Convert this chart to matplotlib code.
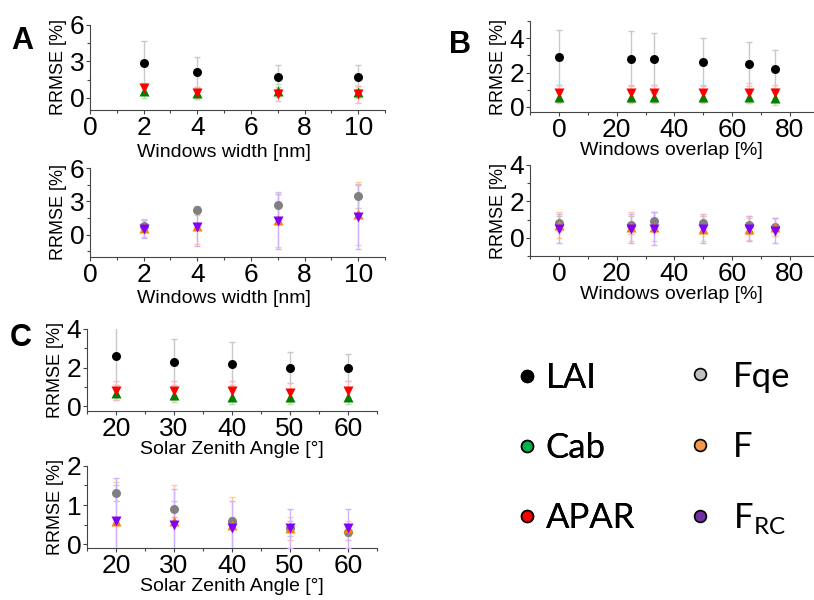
import matplotlib
matplotlib.use("Agg")
import matplotlib.pyplot as plt
from matplotlib.lines import Line2D
from matplotlib.ticker import MultipleLocator, AutoMinorLocator

plt.rcParams.update({
    "font.family": ["Liberation Sans", "DejaVu Sans"],
    "font.size": 13,
    "axes.spines.top": False, "axes.spines.right": False,
    "mathtext.fontset": "custom", "mathtext.rm": "Lato",
})

# ---- data ----
width_x = [2, 4, 7, 10]
width_lai = [2.9, 2.1, 1.7, 1.7]
width_lai_err = [1.8, 1.3, 1.0, 1.0]
width_cab = [0.6, 0.4, 0.6, 0.5]
width_cab_err = [0.6, 0.5, 0.5, 0.5]
width_apar = [0.8, 0.4, 0.3, 0.3]
width_apar_err = [0.4, 0.5, 0.6, 0.7]
width_fqe = [0.8, 2.2, 2.7, 3.5]
width_fqe_err = [0.5, 0.4, 1.15, 1.1]
width_f = [0.6, 0.8, 1.3, 1.9]
width_f_err = [0.8, 1.6, 2.4, 2.8]
width_frc = [0.5, 0.7, 1.2, 1.6]
width_frc_err = [0.8, 1.7, 2.5, 2.9]

overlap_x = [0, 25, 33, 50, 66, 75]
overlap_lai = [2.9, 2.8, 2.8, 2.6, 2.5, 2.2]
overlap_lai_err = [1.6, 1.6, 1.5, 1.4, 1.3, 1.1]
overlap_cab = [0.6, 0.6, 0.6, 0.6, 0.6, 0.5]
overlap_cab_err = [0.4, 0.4, 0.4, 0.4, 0.4, 0.4]
overlap_apar = [0.8, 0.8, 0.8, 0.8, 0.8, 0.8]
overlap_apar_err = [0.5, 0.5, 0.5, 0.5, 0.6, 0.5]
overlap_fqe = [0.8, 0.7, 0.9, 0.8, 0.7, 0.6]
overlap_fqe_err = [0.4, 0.5, 0.5, 0.4, 0.5, 0.5]
overlap_f = [0.7, 0.6, 0.6, 0.5, 0.5, 0.6]
overlap_f_err = [0.7, 0.8, 0.8, 0.7, 0.6, 0.5]
overlap_frc = [0.5, 0.5, 0.5, 0.5, 0.5, 0.4]
overlap_frc_err = [0.8, 0.8, 0.9, 0.8, 0.7, 0.7]

sza_x = [20, 30, 40, 50, 60]
sza_lai = [2.6, 2.3, 2.2, 2.0, 2.0]
sza_lai_err = [1.5, 1.2, 1.1, 0.8, 0.7]
sza_cab = [0.7, 0.6, 0.5, 0.5, 0.5]
sza_cab_err = [0.4, 0.4, 0.4, 0.4, 0.4]
sza_apar = [0.8, 0.8, 0.8, 0.7, 0.8]
sza_apar_err = [0.5, 0.5, 0.5, 0.5, 0.5]
sza_fqe = [1.3, 0.9, 0.6, 0.4, 0.3]
sza_fqe_err = [0.2, 0.2, 0.1, 0.2, 0.2]
sza_f = [0.6, 0.6, 0.5, 0.4, 0.4]
sza_f_err = [1.0, 0.9, 0.7, 0.3, 0.2]
sza_frc = [0.6, 0.5, 0.4, 0.4, 0.4]
sza_frc_err = [1.1, 0.9, 0.7, 0.5, 0.5]

# marker style / error-bar colour per variable
STYLE = {
    "LAI": ("o", "black", "#c8c8c8"),
    "Cab": ("^", "#008000", "#b8e0b8"),
    "APAR": ("v", "#ff0000", "#ffb8b8"),
    "Fqe": ("o", "#808080", "#c8c8c8"),
    "F": ("^", "#ff8000", "#ffcc99"),
    "FRC": ("v", "#8000ff", "#d0b0ff"),
}


def series(ax, name, x, y, err):
    m, c, ec = STYLE[name]
    ax.errorbar(x, y, yerr=err, fmt=m, color=c, ecolor=ec, elinewidth=1,
                capsize=2, capthick=1, ms=6.5, mec="none", zorder=3)


def style_axes(ax, xlim, ylim, xmaj, ymaj, xlabel):
    ax.set_xlim(*xlim)
    ax.set_ylim(*ylim)
    ax.xaxis.set_major_locator(MultipleLocator(xmaj))
    ax.yaxis.set_major_locator(MultipleLocator(ymaj))
    ax.xaxis.set_minor_locator(AutoMinorLocator(2))
    ax.yaxis.set_minor_locator(AutoMinorLocator(2))
    ax.tick_params(which="major", direction="out", length=3, width=0.8,
                   labelsize=19, pad=1, color="#444444")
    ax.tick_params(which="minor", direction="out", length=2, width=0.8,
                   color="#444444")
    for s in ("left", "bottom"):
        ax.spines[s].set_color("#444444")
    ax.set_xlabel(xlabel, fontsize=14, labelpad=0)
    ax.set_ylabel("RRMSE [%]", fontsize=13, labelpad=2)


fig = plt.figure(figsize=(8.14, 6.0), dpi=100)

axA1 = fig.add_axes([0.1106, 0.8167, 0.3624, 0.1417])
axA2 = fig.add_axes([0.1106, 0.5717, 0.3624, 0.1483])
axB1 = fig.add_axes([0.6511, 0.8133, 0.3477, 0.1517])
axB2 = fig.add_axes([0.6511, 0.5733, 0.3477, 0.1517])
axC1 = fig.add_axes([0.1069, 0.3150, 0.3563, 0.1367])
axC2 = fig.add_axes([0.1069, 0.0867, 0.3563, 0.1367])

series(axA1, "LAI", width_x, width_lai, width_lai_err)
series(axA1, "Cab", width_x, width_cab, width_cab_err)
series(axA1, "APAR", width_x, width_apar, width_apar_err)
series(axA2, "Fqe", width_x, width_fqe, width_fqe_err)
series(axA2, "F", width_x, width_f, width_f_err)
series(axA2, "FRC", width_x, width_frc, width_frc_err)

series(axB1, "LAI", overlap_x, overlap_lai, overlap_lai_err)
series(axB1, "Cab", overlap_x, overlap_cab, overlap_cab_err)
series(axB1, "APAR", overlap_x, overlap_apar, overlap_apar_err)
series(axB2, "Fqe", overlap_x, overlap_fqe, overlap_fqe_err)
series(axB2, "F", overlap_x, overlap_f, overlap_f_err)
series(axB2, "FRC", overlap_x, overlap_frc, overlap_frc_err)

series(axC1, "LAI", sza_x, sza_lai, sza_lai_err)
series(axC1, "Cab", sza_x, sza_cab, sza_cab_err)
series(axC1, "APAR", sza_x, sza_apar, sza_apar_err)
series(axC2, "Fqe", sza_x, sza_fqe, sza_fqe_err)
series(axC2, "F", sza_x, sza_f, sza_f_err)
series(axC2, "FRC", sza_x, sza_frc, sza_frc_err)

style_axes(axA1, (0, 11), (-1, 6), 2, 3, "Windows width [nm]")
style_axes(axA2, (0, 11), (-2, 6), 2, 3, "Windows width [nm]")
style_axes(axB1, (-10, 88), (-0.3, 5), 20, 2, "Windows overlap [%]")
style_axes(axB2, (-10, 88), (-1, 4), 20, 2, "Windows overlap [%]")
style_axes(axC1, (15, 65), (-0.25, 4), 10, 2, "Solar Zenith Angle [°]")
style_axes(axC2, (15, 65), (-0.1, 2), 10, 1, "Solar Zenith Angle [°]")
# panel A x-labels sit centred on x = 5 (original 0-10 range)
axA1.xaxis.set_label_coords(5 / 11, -0.40)
axA2.xaxis.set_label_coords(5 / 11, -0.37)

# panel letters
for letter, xp, yp in (("A", 0.014, 0.932), ("B", 0.551, 0.925), ("C", 0.012, 0.437)):
    fig.text(xp, yp, letter, fontsize=22, fontweight="bold", va="center")

# legend (two columns, circles with black edge)
leg_names = ["LAI", "Cab", "APAR", "Fqe", "F", r"F$_{\mathrm{RC}}$"]
leg_colors = ["black", "#00b050", "#ff0000", "#c0c0c0", "#f79646", "#7030a0"]


def handle(c):
    return Line2D([], [], ls="none", marker="o", ms=8.5, mfc=c, mec="black", mew=1.2)


leg_kw = dict(loc="center left", frameon=False, prop={"family": "Lato", "size": 25},
              handlelength=0.8, labelspacing=1.1, borderpad=0, borderaxespad=0)
leg1 = fig.legend([handle(c) for c in leg_colors[:3]], leg_names[:3],
                  bbox_to_anchor=(0.630, 0.253), handletextpad=0.15, **leg_kw)
fig.add_artist(leg1)
fig.legend([handle(c) for c in leg_colors[3:]], leg_names[3:],
           bbox_to_anchor=(0.843, 0.253), handletextpad=0.55, **leg_kw)

fig.savefig("out.png", dpi=100)
